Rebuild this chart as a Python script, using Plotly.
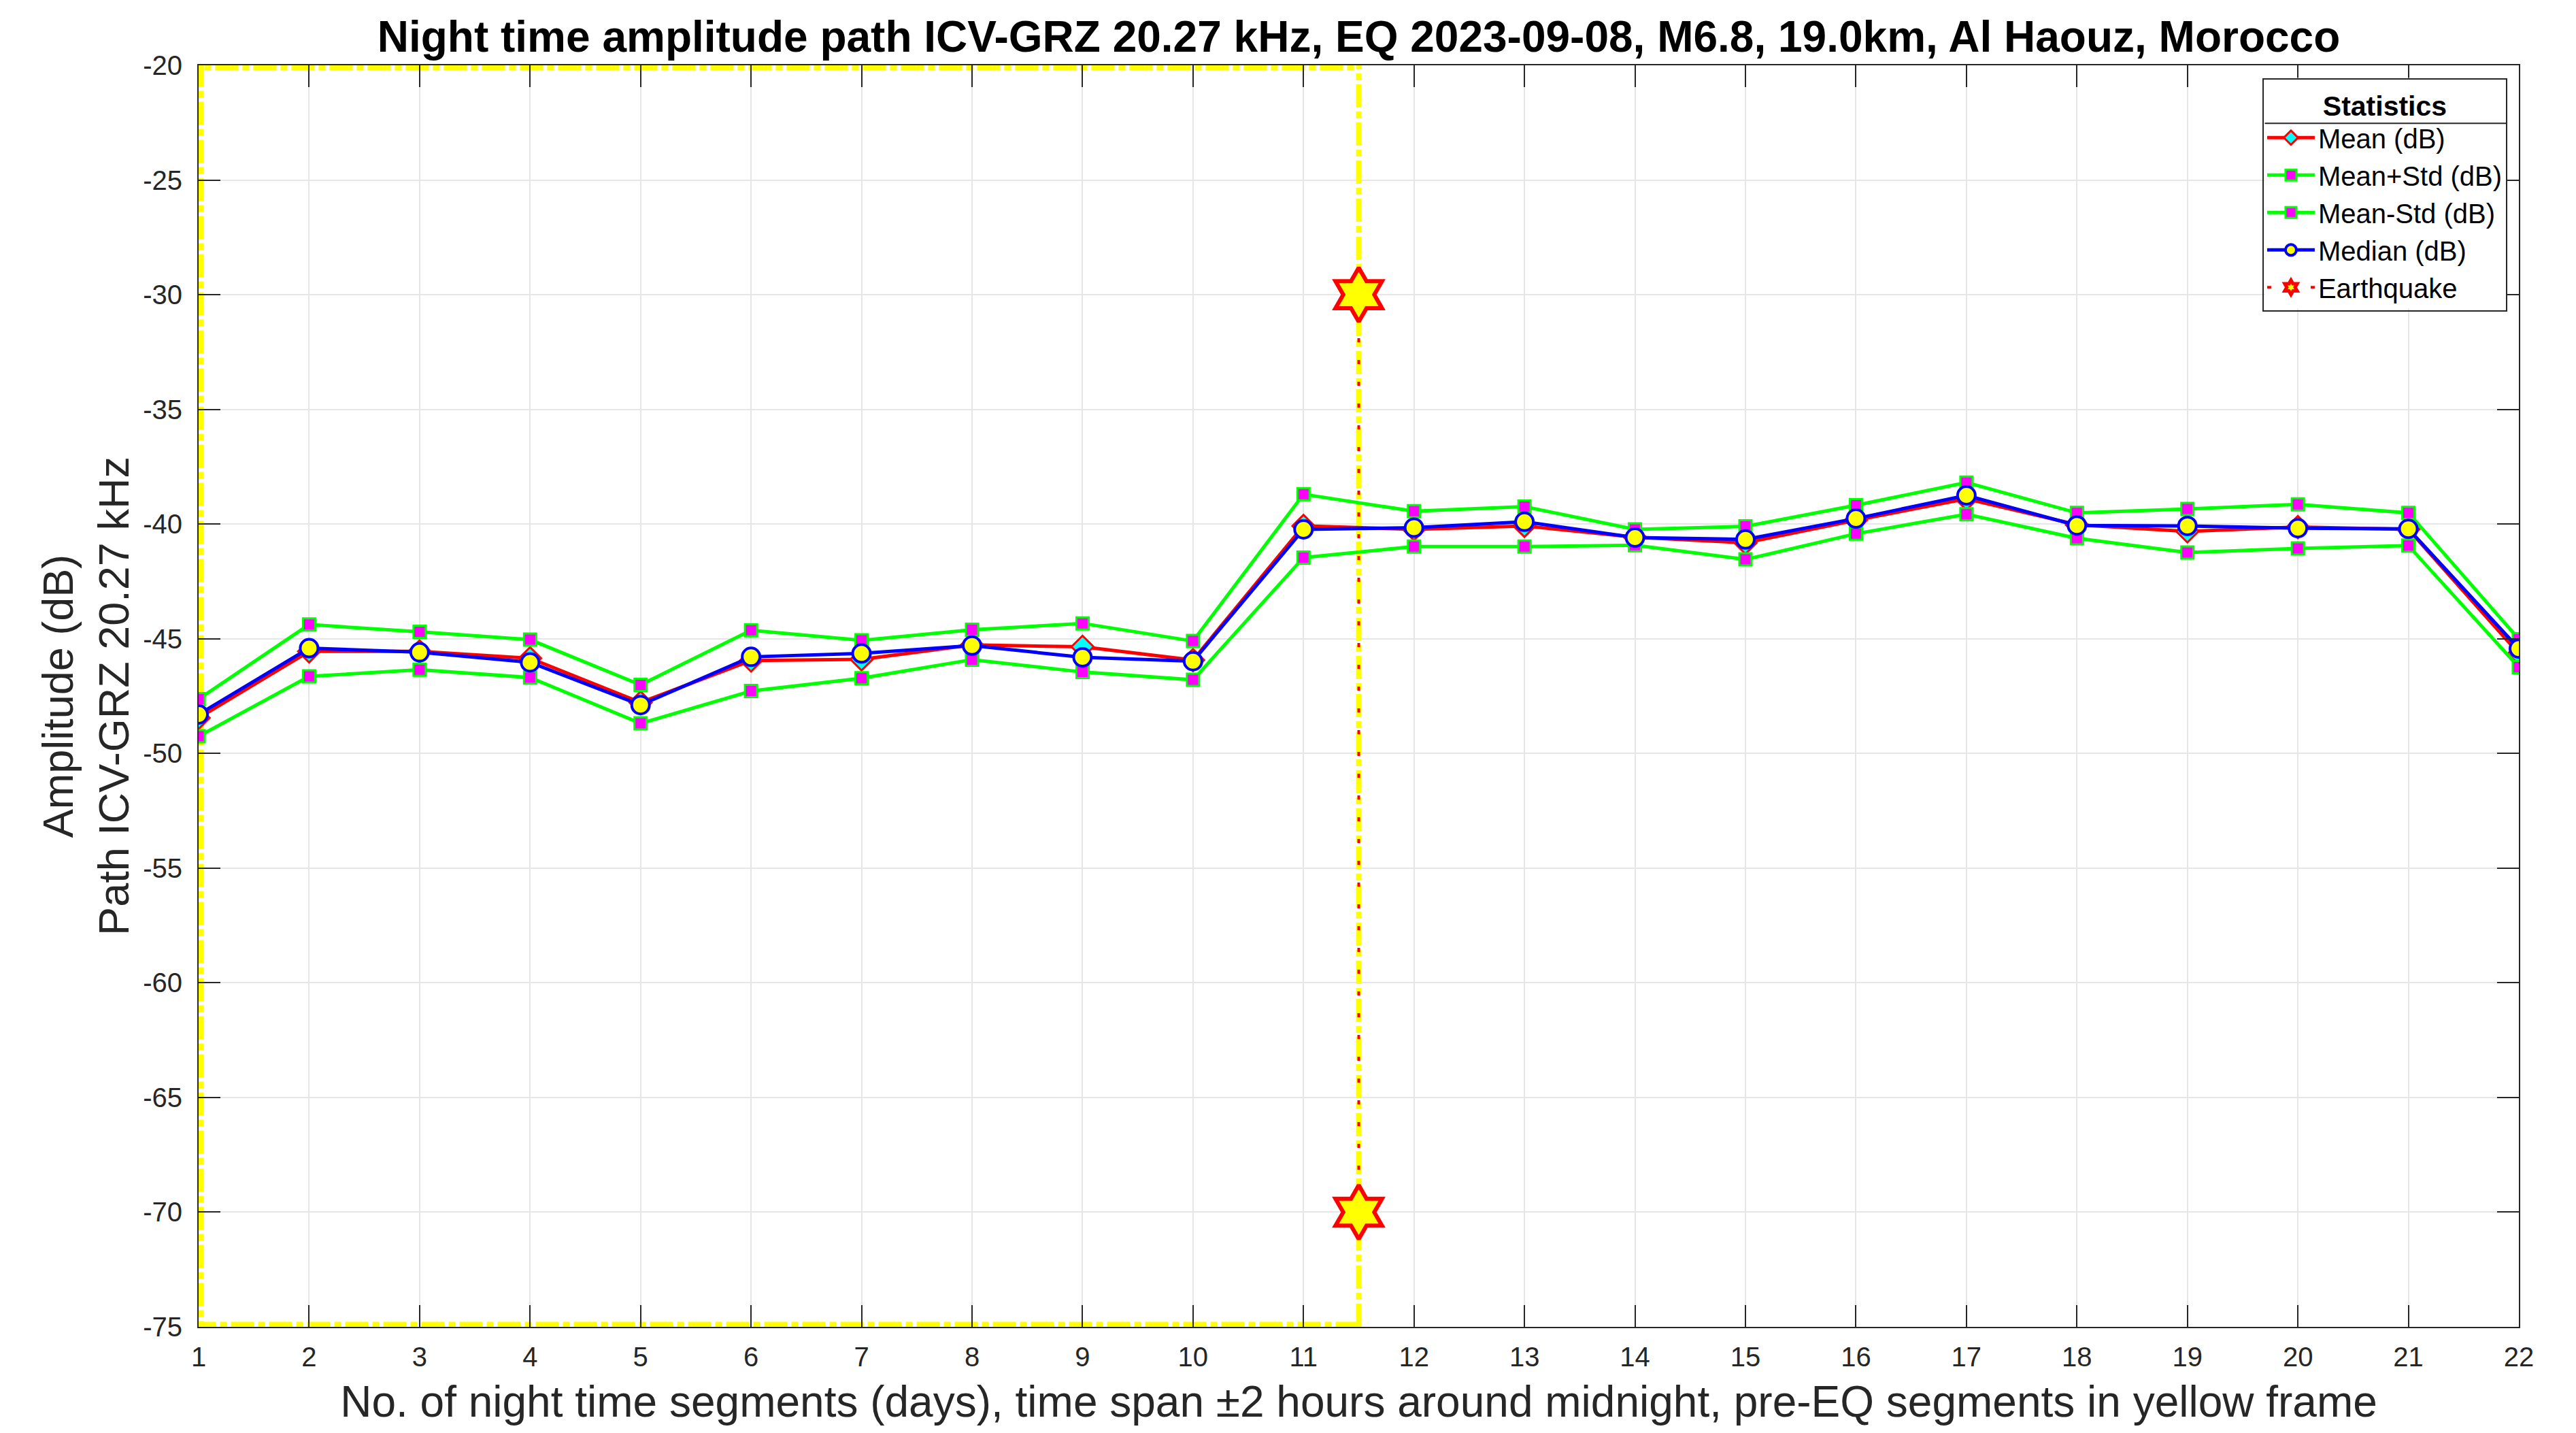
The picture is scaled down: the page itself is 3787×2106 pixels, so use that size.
import plotly.graph_objects as go

# ---- data ----
segments = list(range(1, 23))
mean_db = [-48.45, -45.55, -45.55, -45.85, -47.78, -45.95, -45.90, -45.27, -45.35, -45.93,
           -40.08, -40.23, -40.08, -40.57, -40.82, -39.83, -38.90, -40.03, -40.32, -40.13,
           -40.23, -45.65]
median_db = [-48.30, -45.41, -45.59, -46.03, -47.89, -45.79, -45.64, -45.30, -45.81, -45.98,
             -40.23, -40.16, -39.90, -40.59, -40.67, -39.76, -38.75, -40.06, -40.08, -40.18,
             -40.21, -45.43]
mean_plus_std = [-47.63, -44.38, -44.70, -45.04, -47.01, -44.63, -45.07, -44.61, -44.33, -45.10,
                 -38.70, -39.44, -39.24, -40.23, -40.10, -39.18, -38.19, -39.51, -39.34, -39.14,
                 -39.51, -45.02]
mean_minus_std = [-49.25, -46.64, -46.35, -46.69, -48.69, -47.28, -46.72, -45.91, -46.45, -46.79,
                  -41.46, -40.98, -40.98, -40.92, -41.54, -40.42, -39.57, -40.62, -41.24, -41.06,
                  -40.94, -46.24]
eq_x = [11.5, 11.5]
eq_y = [-30, -70]
# yellow frame around pre-EQ segments: outer part lies on the axes border, inner edge at EQ
frame_outer_x = [11.5, 1, 1, 11.5]
frame_outer_y = [-75, -75, -20, -20]
frame_inner_x = [11.5, 11.5]
frame_inner_y = [-75, -20]
x_ticks = list(range(1, 23))
y_ticks = list(range(-75, -19, 5))

FONT = "Liberation Sans, Arial, Helvetica, sans-serif"
AX = "#262626"
W, H = 3779, 2098  # page body has an 8px margin

fig = go.Figure()

frame_dash = "34px,6px,10px,6px"
fig.add_trace(go.Scatter(x=frame_outer_x, y=frame_outer_y, mode="lines", showlegend=False,
                         hoverinfo="skip",
                         line=dict(color="#FFFF00", width=15, dash=frame_dash)))
fig.add_trace(go.Scatter(x=frame_inner_x, y=frame_inner_y, mode="lines", showlegend=False,
                         hoverinfo="skip",
                         line=dict(color="#FFFF00", width=8, dash=frame_dash)))

fig.add_trace(go.Scatter(x=segments, y=mean_db, mode="lines+markers", name="Mean (dB)",
                         line=dict(color="#FF0000", width=5),
                         marker=dict(symbol="diamond", size=25, color="#00FFFF",
                                     line=dict(color="#FF0000", width=3))))
fig.add_trace(go.Scatter(x=segments, y=mean_plus_std, mode="lines+markers", name="Mean+Std (dB)",
                         line=dict(color="#00FF00", width=5),
                         marker=dict(symbol="square", size=18, color="#FF00FF",
                                     line=dict(color="#00FF00", width=3))))
fig.add_trace(go.Scatter(x=segments, y=mean_minus_std, mode="lines+markers", name="Mean-Std (dB)",
                         line=dict(color="#00FF00", width=5),
                         marker=dict(symbol="square", size=18, color="#FF00FF",
                                     line=dict(color="#00FF00", width=3))))
fig.add_trace(go.Scatter(x=segments, y=median_db, mode="lines+markers", name="Median (dB)",
                         line=dict(color="#0000FF", width=5),
                         marker=dict(symbol="circle", size=26, color="#FFFF00",
                                     line=dict(color="#0000FF", width=4))))
fig.add_trace(go.Scatter(x=eq_x, y=eq_y, mode="lines+markers", name="Earthquake",
                         cliponaxis=False,
                         line=dict(color="#FF0000", width=4, dash="6px,26px"),
                         marker=dict(symbol="hexagram", size=60, color="#FFFF00",
                                     line=dict(color="#FF0000", width=6))))

LEG_X, LEG_Y = 0.995, 0.990
LEG_LEFT, LEG_BOTTOM, LEG_SEP = 0.8905, 0.807, 0.954

fig.update_layout(
    width=W, height=H,
    margin=dict(l=284, r=84, t=88, b=156, autoexpand=False),
    paper_bgcolor="white", plot_bgcolor="white",
    font=dict(family=FONT, size=40, color=AX),
    title=dict(text="<b>Night time amplitude path ICV-GRZ 20.27 kHz, EQ 2023-09-08, M6.8, 19.0km, Al Haouz, Morocco</b>",
               x=0.5, xref="paper", xanchor="center",
               y=1 - 46 / H, yref="container", yanchor="middle",
               font=dict(family=FONT, size=64, color="black")),
    showlegend=True,
    legend=dict(x=LEG_X, y=LEG_Y, xanchor="right", yanchor="top",
                bgcolor="rgba(0,0,0,0)", bordercolor=AX, borderwidth=2,
                font=dict(family=FONT, size=40, color="black"),
                title=dict(text="<b>Statistics</b>", side="top center",
                           font=dict(family=FONT, size=41, color="black")),
                itemsizing="trace", itemwidth=70),
    shapes=[
        # white legend background (legend itself is transparent so the separator shows)
        dict(type="rect", xref="paper", yref="paper", layer="above",
             x0=LEG_LEFT, x1=LEG_X, y0=LEG_BOTTOM, y1=LEG_Y,
             fillcolor="white", line=dict(width=0)),
        # separator line under the legend title
        dict(type="line", xref="paper", yref="paper", layer="above",
             x0=LEG_LEFT, x1=LEG_X, y0=LEG_SEP, y1=LEG_SEP,
             line=dict(color=AX, width=2)),
    ],
)

fig.update_xaxes(range=[1, 22], tickmode="array", tickvals=x_ticks,
                 ticktext=[str(v) for v in x_ticks],
                 ticks="inside", ticklen=32, tickwidth=2, tickcolor=AX,
                 showline=True, linecolor=AX, linewidth=2, mirror="ticks",
                 showgrid=True, gridcolor="#E6E6E6", gridwidth=2, zeroline=False,
                 tickfont=dict(family=FONT, size=40, color=AX), ticklabelstandoff=8,
                 title=dict(text="No. of night time segments (days), time span \u00b12 hours around midnight, pre-EQ segments in yellow frame",
                            font=dict(family=FONT, size=64, color=AX), standoff=22),
                 automargin=False)
fig.update_yaxes(range=[-75, -20], tickmode="array", tickvals=y_ticks,
                 ticktext=[str(v) for v in y_ticks],
                 ticks="inside", ticklen=32, tickwidth=2, tickcolor=AX,
                 showline=True, linecolor=AX, linewidth=2, mirror="ticks",
                 showgrid=True, gridcolor="#E6E6E6", gridwidth=2, zeroline=False,
                 tickfont=dict(family=FONT, size=40, color=AX), ticklabelstandoff=14,
                 title=dict(text="Amplitude (dB)<br>Path ICV-GRZ 20.27 kHz",
                            font=dict(family=FONT, size=63, color=AX), standoff=0),
                 automargin=False)

fig.write_html("out.html")
